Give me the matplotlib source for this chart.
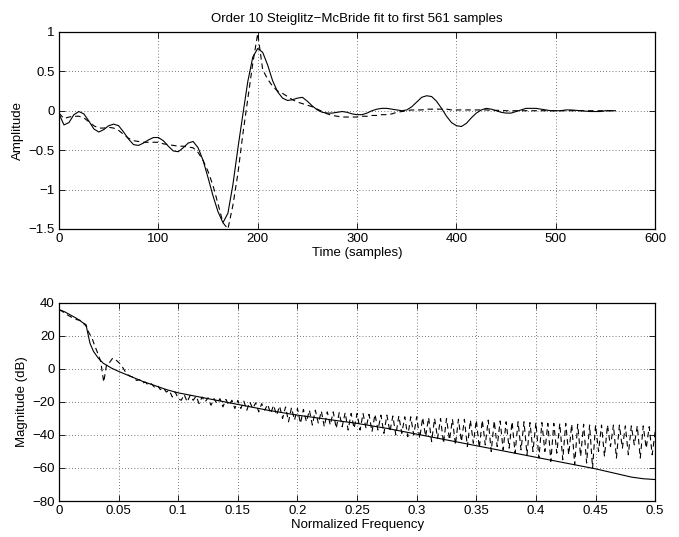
import matplotlib
matplotlib.use("Agg")
import matplotlib.pyplot as plt
import numpy as np

plt.rcParams['font.family'] = ['Liberation Sans', 'DejaVu Sans']
plt.rcParams['font.size'] = 9.5

# impulse response (solid) and order 10 fit (dashed), sampled every 5 samples
t = np.arange(0, 561, 5)
h_actual = [
    -0.04, -0.18, -0.15, -0.05, -0.01, -0.04, -0.13, -0.23, -0.27, -0.24,
    -0.19, -0.17, -0.19, -0.27, -0.36, -0.43, -0.44, -0.41, -0.37, -0.34,
    -0.34, -0.38, -0.45, -0.51, -0.52, -0.47, -0.41, -0.39, -0.47, -0.63,
    -0.85, -1.08, -1.28, -1.42, -1.30, -0.94, -0.48, -0.05, 0.37, 0.68,
    0.79, 0.74, 0.58, 0.38, 0.24, 0.16, 0.13, 0.14, 0.16, 0.17,
    0.12, 0.06, 0.01, -0.02, -0.03, -0.03, -0.02, -0.01, -0.02, -0.04,
    -0.05, -0.05, -0.03, 0.00, 0.02, 0.03, 0.03, 0.02, 0.01, 0.00,
    0.01, 0.05, 0.11, 0.17, 0.19, 0.18, 0.12, 0.03, -0.07, -0.15,
    -0.19, -0.20, -0.16, -0.09, -0.03, 0.01, 0.03, 0.02, 0.00, -0.02,
    -0.03, -0.03, -0.01, 0.01, 0.03, 0.03, 0.03, 0.02, 0.01, 0.00,
    0.00, 0.00, 0.01, 0.01, 0.005, 0.00, -0.005, -0.01, -0.01, -0.01,
    0.00, 0.00, 0.00,
]
h_fit = [
    -0.03, -0.10, -0.08, -0.07, -0.07, -0.09, -0.14, -0.19, -0.22, -0.22,
    -0.21, -0.22, -0.25, -0.30, -0.35, -0.38, -0.39, -0.40, -0.40, -0.40,
    -0.40, -0.42, -0.43, -0.44, -0.45, -0.45, -0.46, -0.47, -0.53, -0.63,
    -0.77, -0.95, -1.18, -1.42, -1.50, -1.20, -0.80, -0.30, 0.15, 0.60,
    0.98, 0.52, 0.40, 0.31, 0.25, 0.22, 0.18, 0.14, 0.11, 0.09,
    0.07, 0.05, 0.02, -0.01, -0.04, -0.06, -0.07, -0.08, -0.08, -0.08,
    -0.08, -0.07, -0.07, -0.06, -0.06, -0.05, -0.05, -0.04, -0.02, -0.01,
    0.00, 0.01, 0.01, 0.01, 0.02, 0.02, 0.02, 0.02, 0.02, 0.01,
    0.01, 0.01, 0.01, 0.01, 0.01, 0.01, 0.01, 0.005, 0.005, 0.005,
    0.00, 0.00, 0.00, 0.00, 0.00, 0.00, 0.00, 0.00, 0.00, 0.00,
    0.00, 0.00, 0.00, 0.00, 0.00, 0.00, 0.00, 0.00, 0.00, 0.00,
    0.00, 0.00, 0.00,
]

# magnitude of the data (dashed), every 0.0025 in normalized frequency
f_data = np.arange(201) * 0.0025
mag_data = [
    35.7, 35.0, 33.7, 32.5, 31.5, 30.8, 29.8, 29.5, 27.5, 27.0,
    22.0, 19.0, 14.0, 9.5, 4.5, -8.0, 3.0, 4.0, 6.5, 5.5,
    4.0, 2.0, -1.0, -3.5, -4.5, -5.0, -7.0, -6.5, -8.5, -8.0,
    -10.0, -9.0, -11.0, -10.0, -12.5, -11.5, -14.0, -13.0, -17.0, -14.0,
    -18.0,
    -19, -15.5, -20, -16, -19, -16.5, -21, -17, -20, -17.5,
    -22, -18, -21, -18, -23, -18.5, -22, -19, -24, -19,
    -24, -19.5, -25, -20, -24, -20.5, -26, -21, -25, -21.5,
    -27, -22, -28, -22.5, -30, -23, -32, -23.5, -31, -24,
    -33, -24.5, -32, -25, -34, -25, -33, -25.5, -35, -26,
    -34, -26, -36, -26.5, -35, -26.5, -37, -27, -36, -27,
    -37, -27, -36, -27.5, -38, -27.5, -37, -28, -39, -28,
    -38, -28.5, -40, -28.5, -39, -29, -41, -29, -40, -29,
    -42, -29.5, -41, -29.5, -44, -30, -42, -30, -45, -30,
    -43, -30.5, -46, -30.5, -44, -30.5, -47, -31, -45, -31,
    -48, -31, -46, -31, -50, -31.5, -47, -31.5, -49, -32,
    -48, -32, -51, -32, -49, -32, -52, -32.5, -50, -32.5,
    -54, -32.5, -50, -33, -56, -33, -51, -33, -55, -33,
    -52, -33.5, -58, -33.5, -53, -33.5, -57, -34, -60, -34,
    -50, -34, -53, -34, -47, -34, -54, -34, -48, -34.5,
    -52, -34.5, -46, -34.5, -54, -34.5, -48, -35, -52, -38,
]

# magnitude of the fitted filter (solid)
f_fit = [0, 0.005, 0.01, 0.015, 0.019, 0.021, 0.023, 0.0245, 0.026, 0.029,
         0.033, 0.037, 0.044, 0.05, 0.06, 0.07, 0.08, 0.09, 0.1, 0.125,
         0.15, 0.175, 0.2, 0.225, 0.25, 0.275, 0.3, 0.325, 0.35, 0.375,
         0.4, 0.425, 0.45, 0.465, 0.48, 0.49, 0.5]
mag_fit = [36, 34.5, 32.5, 30.5, 28.5, 27.5, 25.5, 20.5, 15.5, 10.5,
           6.5, 3.5, 0.5, -1.5, -4.5, -7.5, -10, -12.5, -14.5, -18,
           -21.5, -25, -28, -30.5, -33, -36, -39.5, -43, -46.5, -50,
           -53.5, -57, -60.5, -63, -65.5, -66.5, -67]


def matlab_axes(ax):
    ax.tick_params(direction='in', top=True, right=True, length=4, width=0.6,
                   labelsize=9.5, pad=3, colors='black')
    ax.grid(True, color='black', linestyle=(0, (1, 3.5)), linewidth=0.5)
    for s in ax.spines.values():
        s.set_linewidth(0.9)


fig = plt.figure(figsize=(6.79, 5.37), dpi=100)
ax1 = fig.add_axes([0.0869, 0.5736, 0.878, 0.367])
ax2 = fig.add_axes([0.0869, 0.067, 0.878, 0.369])

ax1.plot(t, h_actual, color='black', linewidth=0.8)
l1, = ax1.plot(t, h_fit, color='black', linewidth=0.8)
l1.set_dashes([5, 3.5])
ax1.set_xlim(0, 600)
ax1.set_ylim(-1.5, 1)
ax1.set_xticks([0, 100, 200, 300, 400, 500, 600])
ax1.set_yticks([-1.5, -1, -0.5, 0, 0.5, 1])
ax1.set_yticklabels(['\u22121.5', '\u22121', '\u22120.5', '0', '0.5', '1'])
ax1.set_xlabel('Time (samples)', labelpad=1)
ax1.set_ylabel('Amplitude', labelpad=3)
ax1.set_title('Order 10 Steiglitz\u2212McBride fit to first 561 samples',
              fontsize=9.5, pad=7)
matlab_axes(ax1)

l2, = ax2.plot(f_data, mag_data, color='black', linewidth=0.8)
l2.set_dashes([5, 3.5])
ax2.plot(f_fit, mag_fit, color='black', linewidth=0.8)
ax2.set_xlim(0, 0.5)
ax2.set_ylim(-80, 40)
ax2.set_xticks([0, 0.05, 0.1, 0.15, 0.2, 0.25, 0.3, 0.35, 0.4, 0.45, 0.5])
ax2.set_xticklabels(['0', '0.05', '0.1', '0.15', '0.2', '0.25', '0.3',
                     '0.35', '0.4', '0.45', '0.5'])
ax2.set_yticks([-80, -60, -40, -20, 0, 20, 40])
ax2.set_yticklabels(['\u221280', '\u221260', '\u221240', '\u221220',
                     '0', '20', '40'])
ax2.set_xlabel('Normalized Frequency', labelpad=1)
ax2.set_ylabel('Magnitude (dB)', labelpad=3)
matlab_axes(ax2)

fig.savefig('out.png', dpi=100)
